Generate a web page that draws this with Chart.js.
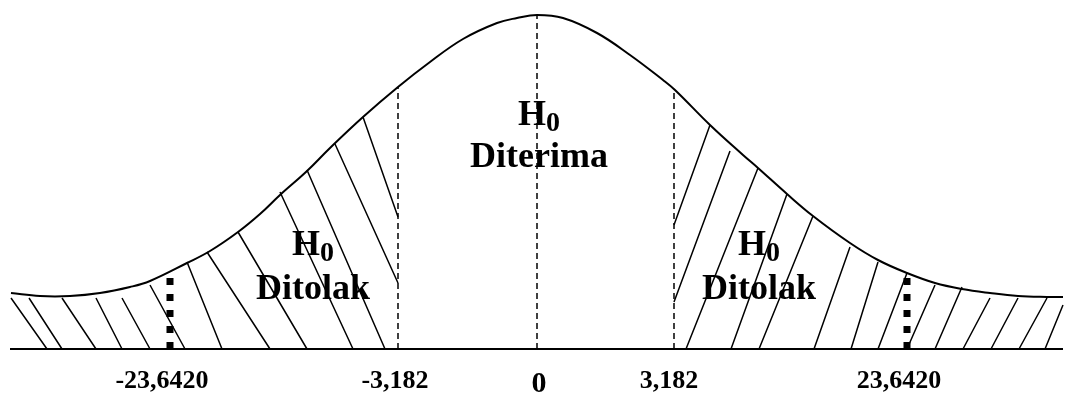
<!DOCTYPE html>
<html>
<head>
<meta charset="utf-8">
<script src="https://cdn.jsdelivr.net/npm/chart.js@4/dist/chart.umd.min.js"></script>
<style>
  html, body { margin: 0; padding: 0; background: #fff; }
  #wrap { width: 1065px; height: 394px; position: relative; }
</style>
</head>
<body>
<div id="wrap"><canvas id="uji-t"></canvas></div>
<script>
// Two-tailed t-test acceptance / rejection regions (schematic, not to scale).
// Horizontal units: offset from the centre line; vertical units: height
// above the baseline.

const curveX = [-526, -497, -467, -437, -407, -387, -350, -327, -299, -277, -257, -230, -207, -174, -139,
                -107, -74, -40, -20, 0, 26, 60, 93, 126, 138, 173, 206, 221, 250, 276, 313, 341, 370, 398,
                425, 453, 481, 510, 526];
const curveY = [56, 53, 53, 56, 62, 68, 86, 98, 117, 135, 154, 178, 201, 232, 262,
                287, 310, 326, 331, 334, 331, 316, 294, 269, 259, 224, 194, 181, 155, 133, 106, 89, 76, 66,
                60, 56, 53, 52, 52];

// critical values (dashed) and the t-count values (thick dotted)
const criticalX = [-139, 0, 137];
const criticalTop = [262, 334, 260];
const tCountX = [-367, 370];
const tCountTop = [71, 71];

// hatching of the rejection regions: top point -> bottom point
const leftHatchTopX = [-526, -508, -475, -441, -415, -387, -350, -330, -299, -257, -230, -202, -174];
const leftHatchTopY = [51, 51, 51, 51, 51, 64, 87, 97, 117, 157, 179, 205, 232];
const leftHatchBotX = [-490, -475, -441, -415, -387, -352, -315, -267, -230, -184, -152, -139, -139];
const leftHatchBotY = [0, 0, 0, 0, 0, 0, 0, 0, 0, 0, 0, 66, 132];

const rightHatchTopX = [173, 193, 221, 250, 276, 313, 341, 370, 398, 425, 453, 481, 510, 526];
const rightHatchTopY = [224, 198, 181, 155, 133, 102, 87, 76, 64, 62, 51, 51, 51, 44];
const rightHatchBotX = [137, 137, 149, 194, 222, 277, 314, 341, 370, 398, 426, 454, 482, 508];
const rightHatchBotY = [124, 47, 0, 0, 0, 0, 0, 0, 0, 0, 0, 0, 0, 0];

const tickValues = [-375, -142, 2, 132, 362];
const tickLabels = ["-23,6420", "-3,182", "0", "3,182", "23,6420"];

// region captions: [x, baseline of "H0", baseline of second word]
const regionTexts = ["Ditolak", "Diterima", "Ditolak"];
const regionX = [-224, 2, 222];
const regionHY = [94, 224, 94];
const regionWordY = [50, 182, 50];

const X_MIN = -527, X_MAX = 526, Y_MAX = 349;
const SERIF = "'Liberation Serif', 'Times New Roman', serif";

function toPoints(xs, ys) {
    return xs.map((x, i) => ({ x: x, y: ys[i] }));
}

function segments(x1, y1, x2, y2) {
    // line pieces separated by gaps (null y breaks the line)
    const pts = [];
    for (let i = 0; i < x1.length; i++) {
        pts.push({ x: x1[i], y: y1[i] }, { x: x2[i], y: y2[i] }, { x: x2[i], y: null });
    }
    return pts;
}

const lineDefaults = {
    showLine: true,
    pointRadius: 0,
    pointHoverRadius: 0,
    borderColor: "#000",
    clip: false,
    spanGaps: false,
};

const captionPlugin = {
    id: "captions",
    afterDatasetsDraw(chart) {
        const { ctx, scales } = chart;
        ctx.save();
        ctx.fillStyle = "#000";
        ctx.textBaseline = "alphabetic";
        for (let i = 0; i < regionTexts.length; i++) {
            const cx = scales.x.getPixelForValue(regionX[i]);
            const hy = scales.y.getPixelForValue(regionHY[i]);
            const wy = scales.y.getPixelForValue(regionWordY[i]);
            ctx.font = "bold 36px " + SERIF;
            const hw = ctx.measureText("H").width;
            ctx.font = "bold 28px " + SERIF;
            const zw = ctx.measureText("0").width;
            const start = cx - (hw + zw) / 2;
            ctx.textAlign = "left";
            ctx.font = "bold 36px " + SERIF;
            ctx.fillText("H", start, hy);
            ctx.font = "bold 28px " + SERIF;
            ctx.fillText("0", start + hw, hy + 6);
            ctx.textAlign = "center";
            ctx.font = "bold 36px " + SERIF;
            ctx.fillText(regionTexts[i], cx, wy);
        }
        ctx.restore();
    },
};

const datasets = [
    Object.assign({ label: "kurva", data: toPoints(curveX, curveY), borderWidth: 2, tension: 0.4 }, lineDefaults),
    Object.assign({ label: "sumbu", data: [{ x: X_MIN, y: 0 }, { x: X_MAX, y: 0 }], borderWidth: 2 }, lineDefaults),
    Object.assign({ label: "arsir kiri", data: segments(leftHatchTopX, leftHatchTopY, leftHatchBotX, leftHatchBotY),
        borderWidth: 1.5 }, lineDefaults),
    Object.assign({ label: "arsir kanan", data: segments(rightHatchTopX, rightHatchTopY, rightHatchBotX, rightHatchBotY),
        borderWidth: 1.5 }, lineDefaults),
    Object.assign({ label: "batas kritis", data: segments(criticalX, criticalX.map(() => 0), criticalX, criticalTop),
        borderWidth: 1.5, borderDash: [6, 4] }, lineDefaults),
    Object.assign({ label: "t hitung", data: segments(tCountX, tCountX.map(() => 0), tCountX, tCountTop),
        borderWidth: 7, borderDash: [7, 9], borderCapStyle: "butt" }, lineDefaults),
];

new Chart(document.getElementById("uji-t"), {
    type: "scatter",
    data: { datasets: datasets },
    options: {
        responsive: true,
        maintainAspectRatio: false,
        animation: false,
        events: [],
        layout: { padding: { left: 10, right: 2, top: 0, bottom: 0 } },
        plugins: { legend: { display: false }, tooltip: { enabled: false } },
        scales: {
            x: {
                type: "linear",
                min: X_MIN,
                max: X_MAX,
                grid: { display: false, drawTicks: false },
                border: { display: false },
                afterBuildTicks: (scale) => { scale.ticks = tickValues.map(v => ({ value: v })); },
                afterFit: (scale) => { scale.height = 45; },
                ticks: {
                    autoSkip: false,
                    maxRotation: 0,
                    padding: 17,
                    color: "#000",
                    font: (ctx) => ({
                        family: SERIF,
                        weight: "bold",
                        size: ctx.index === 2 ? 30 : 26,
                    }),
                    callback: (value, index) => tickLabels[index],
                },
            },
            y: {
                type: "linear",
                display: false,
                min: 0,
                max: Y_MAX,
            },
        },
    },
    plugins: [captionPlugin],
});
</script>
</body>
</html>
